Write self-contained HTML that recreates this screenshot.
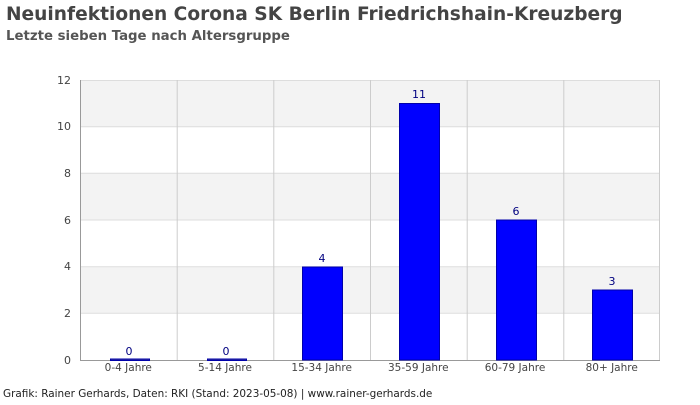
<!DOCTYPE html>
<html><head><meta charset="utf-8"><style>
body{margin:0;background:#fff;width:700px;height:400px;overflow:hidden}
</style></head><body>
<svg width="700" height="400" xmlns="http://www.w3.org/2000/svg" font-family="DejaVu Sans, sans-serif">
<text x="6" y="20" font-size="18.6" font-weight="bold" fill="#444">Neuinfektionen Corona SK Berlin Friedrichshain-Kreuzberg</text>
<text x="6" y="40" font-size="13.3" font-weight="bold" fill="#555">Letzte sieben Tage nach Altersgruppe</text>
<rect x="80" y="80" width="580" height="46.7" fill="#f3f3f3"/>
<rect x="80" y="173.3" width="580" height="46.7" fill="#f3f3f3"/>
<rect x="80" y="266.7" width="580" height="46.7" fill="#f3f3f3"/>
<g stroke="#ddd" stroke-width="1">
<line x1="80" y1="80.5" x2="660" y2="80.5"/><line x1="80" y1="126.7" x2="660" y2="126.7"/>
<line x1="80" y1="173.3" x2="660" y2="173.3"/><line x1="80" y1="220" x2="660" y2="220"/>
<line x1="80" y1="266.7" x2="660" y2="266.7"/><line x1="80" y1="313.3" x2="660" y2="313.3"/>
</g>
<g stroke="#ccc" stroke-width="1">
<line x1="177.2" y1="80" x2="177.2" y2="360"/><line x1="273.8" y1="80" x2="273.8" y2="360"/>
<line x1="370.5" y1="80" x2="370.5" y2="360"/><line x1="467.2" y1="80" x2="467.2" y2="360"/>
<line x1="563.8" y1="80" x2="563.8" y2="360"/><line x1="659.5" y1="80" x2="659.5" y2="360"/>
</g>
<line x1="80.5" y1="80" x2="80.5" y2="360" stroke="#999"/>
<line x1="80" y1="360.5" x2="660" y2="360.5" stroke="#999"/>
<g font-size="11" fill="#444" text-anchor="end">
<text x="71" y="364">0</text><text x="71" y="317">2</text><text x="71" y="270">4</text>
<text x="71" y="224">6</text><text x="71" y="177">8</text><text x="71" y="130">10</text><text x="71" y="84">12</text>
</g>
<g fill="#0000ff" stroke="#0000aa" stroke-width="1">
<rect x="110.5" y="359" width="39" height="1.5" fill="#333399"/>
<rect x="207.5" y="359" width="39" height="1.5" fill="#333399"/>
<rect x="302.5" y="267" width="40" height="93"/>
<rect x="399.5" y="103.5" width="40" height="256.5"/>
<rect x="496.5" y="220" width="40" height="140"/>
<rect x="592.5" y="290" width="40" height="70"/>
</g>
<g font-size="11" fill="#000080" text-anchor="middle">
<text x="129" y="355">0</text><text x="226" y="355">0</text><text x="322" y="262">4</text>
<text x="419" y="98">11</text><text x="516" y="215">6</text><text x="612" y="285">3</text>
</g>
<g font-size="10.5" fill="#444" text-anchor="middle">
<text x="128.3" y="371">0-4 Jahre</text><text x="225" y="371">5-14 Jahre</text>
<text x="321.7" y="371">15-34 Jahre</text><text x="418.3" y="371">35-59 Jahre</text>
<text x="515" y="371">60-79 Jahre</text><text x="611.7" y="371">80+ Jahre</text>
</g>
<text x="3" y="397" font-size="10.45" fill="#222">Grafik: Rainer Gerhards, Daten: RKI (Stand: 2023-05-08) | www.rainer-gerhards.de</text>
</svg>
</body></html>
